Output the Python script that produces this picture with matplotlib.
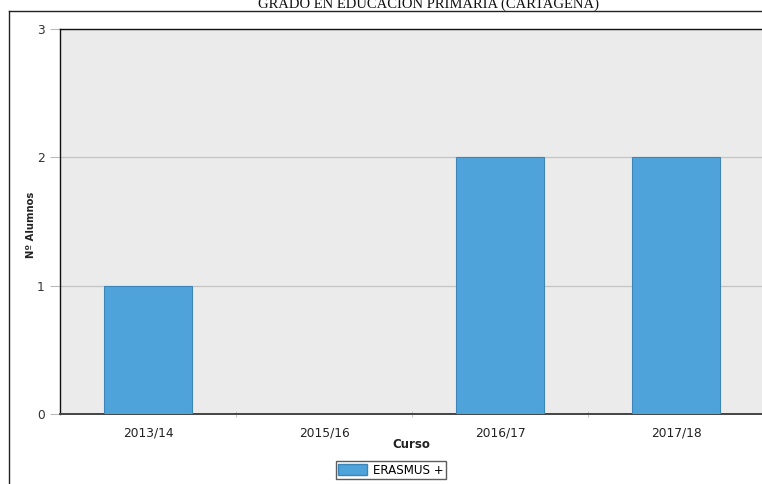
import matplotlib.pyplot as plt
from matplotlib.patches import Patch
from matplotlib.lines import Line2D

# data
cursos = ['2013/14', '2015/16', '2016/17', '2017/18']
alumnos = [1, 0, 2, 2]
serie = 'ERASMUS +'
titulo = 'GRADO EN EDUCACIÓN PRIMARIA (CARTAGENA)'

W, H = 762, 484
fig = plt.figure(figsize=(W / 100, H / 100), dpi=100)
fig.patch.set_facecolor('white')

# plot area in pixels: left 60, right 764, top 29, bottom 414
ax = fig.add_axes([60 / W, 1 - 414 / H, 704 / W, 385 / H])
ax.set_facecolor('#ebebeb')

bar_color = '#4fa3db'
x = list(range(len(cursos)))
ax.bar(x, alumnos, width=0.5, color=bar_color, edgecolor='#3d84b8', linewidth=0.8, zorder=3)

ax.set_xlim(-0.5, len(cursos) - 0.5)
ax.set_ylim(0, 3)
ax.set_yticks([0, 1, 2, 3])
ax.yaxis.grid(True, color='#c4c4c4', linewidth=0.9, zorder=0)
ax.set_xticks(x)
ax.set_xticklabels(cursos)
ax.set_xticks([0.5, 1.5, 2.5], minor=True)
ax.tick_params(axis='x', which='major', length=0, pad=9, labelsize=8.8, labelcolor='#222222')
ax.tick_params(axis='x', which='minor', length=4, color='#bbbbbb', direction='inout')
ax.tick_params(axis='y', length=7, color='#bbbbbb', pad=4, labelsize=8.8, labelcolor='#333333')

for s in ['left', 'top']:
    ax.spines[s].set_color('#111111')
    ax.spines[s].set_linewidth(1.0)
ax.spines['bottom'].set_color('#444444')
ax.spines['bottom'].set_linewidth(1.4)
ax.spines['right'].set_visible(False)

fig.text(31 / W, 1 - 225 / H, 'Nº Alumnos', rotation=90, ha='center', va='center',
         fontsize=7.2, fontweight='bold', color='#222222')
fig.text(411 / W, 1 - 445 / H, 'Curso', ha='center', va='center',
         fontsize=8.5, fontweight='bold', color='#222222')

# title, cut by the top edge as in the original
fig.text(429 / W, 1 - 8 / H, titulo, ha='center', va='baseline',
         fontsize=10.5, family='Liberation Serif', color='#111111')

# outer frame lines
fig.add_artist(Line2D([9 / W, 1], [1 - 11 / H, 1 - 11 / H], color='#222222', linewidth=1.0))
fig.add_artist(Line2D([9 / W, 9 / W], [0, 1 - 11 / H], color='#222222', linewidth=1.0))

leg = fig.legend(handles=[Patch(facecolor=bar_color, edgecolor='#3d84b8', label=serie)],
                 loc='center', bbox_to_anchor=(391 / W, 1 - 470 / H), frameon=True,
                 fancybox=False, edgecolor='#333333', fontsize=8.6,
                 handlelength=2.4, handleheight=1.1, borderpad=0.2, handletextpad=0.5,
                 borderaxespad=0)
leg.get_frame().set_linewidth(1.0)

fig.savefig('out.png', dpi=100)
